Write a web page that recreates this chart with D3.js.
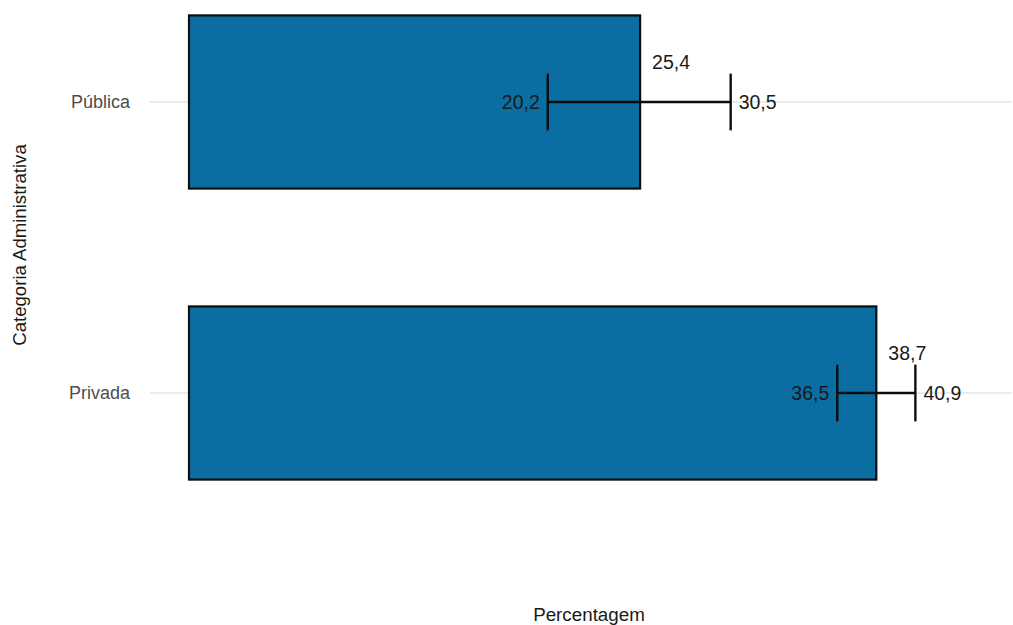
<!DOCTYPE html>
<html><head><meta charset="utf-8">
<script src="https://cdn.jsdelivr.net/npm/d3@7"></script>
<style>body{margin:0;background:#fff}svg{display:block}</style>
</head><body>
<svg id="c" width="1013" height="625"></svg>
<script>
const categories = ["Pública", "Privada"];
const values = [25.4, 38.7];
const lower = [20.2, 36.5];
const upper = [30.5, 40.9];

const W = 1013, H = 625;
const svg = d3.select("#c");
const font = "Liberation Sans, Arial, sans-serif";

const x = d3.scaleLinear().domain([0, 46]).range([189, 189 + 46 * 17.76]);
const y = d3.scalePoint().domain(categories).range([102, 393]);
const step = y.step();
const barH = step * 0.595;
const whisk = step * 0.195;

// gridlines
svg.append("g").selectAll("line").data(categories).join("line")
  .attr("x1", 150).attr("x2", 1012)
  .attr("y1", d => y(d)).attr("y2", d => y(d))
  .attr("stroke", "#ebebeb").attr("stroke-width", 2);

// bars
svg.append("g").selectAll("rect").data(categories).join("rect")
  .attr("x", x(0)).attr("y", d => y(d) - barH / 2)
  .attr("width", (d, i) => x(values[i]) - x(0))
  .attr("height", barH)
  .attr("fill", "#0a6ea3").attr("stroke", "#0d0d0d").attr("stroke-width", 2.2);

// error bars
const eb = svg.append("g").attr("stroke", "#0d0d0d").attr("stroke-width", 2.4);
categories.forEach((c, i) => {
  const cy = y(c);
  eb.append("line").attr("x1", x(lower[i])).attr("x2", x(upper[i])).attr("y1", cy).attr("y2", cy);
  eb.append("line").attr("x1", x(lower[i])).attr("x2", x(lower[i])).attr("y1", cy - whisk / 2).attr("y2", cy + whisk / 2);
  eb.append("line").attr("x1", x(upper[i])).attr("x2", x(upper[i])).attr("y1", cy - whisk / 2).attr("y2", cy + whisk / 2);
});

const fmt = v => d3.format(".1f")(v).replace(".", ",");
const lab = svg.append("g").attr("font-family", font).attr("font-size", 19.5).attr("fill", "#1a1a1a");
categories.forEach((c, i) => {
  const cy = y(c);
  lab.append("text").attr("x", x(values[i]) + 12).attr("y", cy - 40).attr("dy", "0.35em").text(fmt(values[i]));
  lab.append("text").attr("x", x(lower[i]) - 8).attr("y", cy).attr("dy", "0.35em").attr("text-anchor", "end").text(fmt(lower[i]));
  lab.append("text").attr("x", x(upper[i]) + 8).attr("y", cy).attr("dy", "0.35em").text(fmt(upper[i]));
});

// category labels
svg.append("g").selectAll("text").data(categories).join("text")
  .attr("x", 130).attr("y", d => y(d)).attr("dy", "0.35em")
  .attr("text-anchor", "end").attr("font-family", font).attr("font-size", 18)
  .attr("fill", "#4d4d4d").text(d => d);

// axis titles
svg.append("text").attr("x", 589).attr("y", 614).attr("dy", "0.35em")
  .attr("text-anchor", "middle").attr("font-family", font).attr("font-size", 18.8)
  .attr("fill", "#1a1a1a").text("Percentagem");
svg.append("text").attr("transform", "translate(19,245) rotate(-90)").attr("dy", "0.35em")
  .attr("text-anchor", "middle").attr("font-family", font).attr("font-size", 18.6)
  .attr("fill", "#1a1a1a").text("Categoria Administrativa");
</script>
</body></html>
